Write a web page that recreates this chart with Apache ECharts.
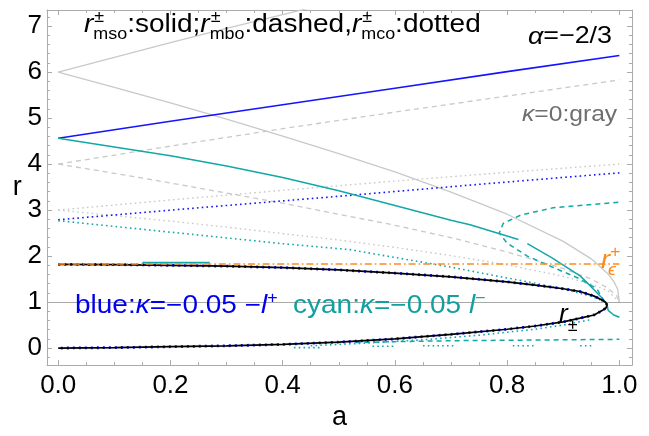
<!DOCTYPE html>
<html><head><meta charset="utf-8">
<script src="https://cdn.jsdelivr.net/npm/echarts@6/dist/echarts.min.js"></script>
<style>html,body{margin:0;padding:0;background:#fff}#c{width:649px;height:436px}</style>
</head><body><div id="c"></div>
<script>
// ---------------- data ----------------
// kappa = 0 (gray)
const grayMsoProA = [0,0.1,0.2,0.3,0.4,0.5,0.6,0.7,0.8,0.9,0.95,0.98,0.99,0.997,1.0];
const grayMsoProR = [6,5.67,5.33,4.98,4.61,4.23,3.83,3.39,2.91,2.32,1.94,1.61,1.45,1.28,1.0];
const grayMsoRetA = [0,0.1,0.2,0.3,0.4,0.5];
const grayMsoRetR = [6,6.32,6.64,6.95,7.25,7.55];
const grayMboProA = [0,0.1,0.2,0.3,0.4,0.5,0.6,0.7,0.8,0.9,0.95,0.98,0.995,1.0];
const grayMboProR = [4,3.80,3.59,3.37,3.15,2.91,2.67,2.40,2.09,1.73,1.50,1.30,1.14,1.0];
const grayMboRetA = [0,0.2,0.4,0.6,0.8,1.0];
const grayMboRetR = [4,4.39,4.77,5.13,5.48,5.83];
const grayMcoProA = [0,0.1,0.2,0.3,0.4,0.5,0.6,0.7,0.8,0.9,0.95,0.98,1.0];
const grayMcoProR = [3,2.88,2.76,2.63,2.49,2.35,2.19,2.01,1.81,1.56,1.39,1.24,1.0];
const grayMcoRetA = [0,0.2,0.4,0.6,0.8,1.0];
const grayMcoRetR = [3,3.22,3.43,3.63,3.82,4.0];
// kappa = -0.05, l+ (blue)
const blueMsoA = [0,0.2,0.4,0.6,0.8,1.0];
const blueMsoR = [4.56,4.93,5.29,5.65,6.01,6.36];
const blueMcoA = [0,0.25,0.5,0.75,1.0];
const blueMcoR = [2.79,3.05,3.30,3.56,3.81];
// kappa = -0.05, l- (cyan)
const cyanMsoA = [0,0.1,0.2,0.3,0.4,0.5,0.6,0.7,0.734,0.82,0.828,0.836,0.88,0.93,0.95,0.97,0.978,0.98,0.99,1.0];
const cyanMsoR = [4.56,4.37,4.18,3.96,3.71,3.42,3.10,2.78,2.68,2.36,null,2.27,1.96,1.57,1.33,1.08,0.95,0.82,0.72,0.67];
const cyanMsoBitA = [0.15,0.27];
const cyanMsoBitR = [1.86,1.86];
const cyanMboA = [0.998,0.94,0.882,0.824,0.793,0.786,0.80,0.836,0.877,0.925,0.96,0.972];
const cyanMboR = [3.17,3.11,3.05,2.89,2.71,2.50,2.28,2.00,1.78,1.53,1.29,1.03];
const cyanMboLowA = [0.53,0.6,0.7,0.8,0.9,1.0];
const cyanMboLowR = [0.12,0.14,0.16,0.17,0.18,0.19];
const cyanMcoA = [0,0.2,0.4,0.52,0.6,0.7,0.78,0.85,0.9,0.95,0.975];
const cyanMcoR = [2.77,2.52,2.27,2.14,1.97,1.76,1.57,1.41,1.28,1.13,1.0];
const cyanMcoLowA = [0.45,0.55,0.65,0.75,0.85,0.9,0.95];
const cyanMcoLowR = [0.05,0.11,0.18,0.28,0.41,0.50,0.62];
const cyanMcoBitsA = [0.42,0.47,0.51,0.56,0.60,0.64,0.65,0.71,0.75,0.81,0.85,0.89,0.93,0.95];
const cyanMcoBitsR = [0.01,0.01,null,0.04,0.04,null,0.05,0.05,null,0.05,0.05,null,0.05,0.05];
// horizons r+- (black) and r_eps+ (orange)
const horizonA = [0,0.1,0.2,0.3,0.4,0.5,0.6,0.7,0.8,0.85,0.9,0.93,0.955,0.97,0.976,0.978,0.976,0.97,0.955,0.93,0.9,0.85,0.8,0.7,0.6,0.5,0.4,0.3,0.2,0.1,0];
const horizonR = [1.82,1.815,1.80,1.78,1.75,1.70,1.63,1.55,1.44,1.37,1.29,1.23,1.13,1.04,0.99,0.93,0.87,0.82,0.72,0.65,0.57,0.48,0.41,0.30,0.20,0.13,0.08,0.05,0.03,0.01,0];
const rEpsA = [0,1.0];
const rEpsR = [1.83,1.83];
const gridLineR = 1;
// axis ticks
const xTickStep = 0.2, yTickStep = 1;

// ---------------- helpers ----------------
function zip(a, r){ return a.map((x,i)=> r[i]==null ? [x,'-'] : [x, r[i]]); }
const FONT = '"Liberation Sans", Arial, Helvetica, sans-serif';
const mctx = document.createElement('canvas').getContext('2d');
function tw(t, f){ mctx.font = f; return mctx.measureText(t).width; }
function richText(x0, base, pieces, o){
  const sx = o.sx || 1, els = [];
  let x = x0;
  const widths = pieces.map(p=>{
    const sz = p.sz || o.sz;
    const f = (p.i?'italic ':'') + sz + 'px ' + FONT;
    return {f, sz, w: tw(p.t, f)*sx};
  });
  if (o.right != null){
    let tot = 0; pieces.forEach((p,i)=>{ if(p.adv!==false) tot += widths[i].w; });
    x = o.right - tot;
  }
  pieces.forEach((p,i)=>{
    const m = widths[i];
    els.push({type:'text', x: x + (p.dx||0), y: base + (p.dy||0) - 0.34*m.sz, scaleX: sx, z: 100, silent:true,
      style:{text:p.t, font:m.f, fill:p.c||o.c, textAlign:'left', textVerticalAlign:'middle', verticalAlign:'middle'}});
    if (p.adv !== false) x += m.w;
  });
  return els;
}
function lineSeries(name, a, r, color, type, width, z){
  return {name, type:'line', data: zip(a,r), showSymbol:false, symbol:'none', connectNulls:false, z: z||2,
    lineStyle:{color, type: type||'solid', width: width||1.4, cap:'butt'}, silent:true, animation:false};
}
const frame = '#ababab';
function xAx(pos, lab){
  return {type:'value', position:pos, min:-0.02, max:1.0225, splitNumber:5,
    axisLine:{show:true,onZero:false,lineStyle:{color:frame,width:1}},
    axisTick:{show:true,inside:true,length:5,lineStyle:{color:frame}},
    minorTick:{show:true,splitNumber:4,length:3,lineStyle:{color:frame}},
    splitLine:{show:false},
    axisLabel:{show:lab, color:'#000', fontSize:26, fontFamily:'Liberation Sans', margin:8,
      formatter: v => (Math.abs(v/xTickStep - Math.round(v/xTickStep))<1e-6 ? v.toFixed(1) : '')},
    name: lab ? 'a' : '', nameLocation:'middle', nameGap:33,
    nameTextStyle:{color:'#000', fontSize:27, fontFamily:'Liberation Sans'}};
}
function yAx(pos, lab){
  return {type:'value', position:pos, min:-0.37, max:7.35, splitNumber:7,
    axisLine:{show:true,onZero:false,lineStyle:{color:frame,width:1}},
    axisTick:{show:true,inside:true,length:5,lineStyle:{color:frame}},
    minorTick:{show:true,splitNumber:5,length:3,lineStyle:{color:frame}},
    splitLine:{show:false},
    axisLabel:{show:lab, color:'#000', fontSize:26, fontFamily:'Liberation Sans', margin:5,
      formatter: v => (Math.abs(v/yTickStep - Math.round(v/yTickStep))<1e-6 ? String(Math.round(v)) : '')},
    name: lab ? 'r' : '', nameLocation:'middle', nameGap:16, nameRotate:0,
    nameTextStyle:{color:'#000', fontSize:27, fontFamily:'Liberation Sans', padding:[8,0,0,0]}};
}

const gray = '#c9c9c9', blue = '#1414ff', cyan = '#12a8a8', orange = '#ff8a1a';
const DASH = [5,4], DOT = [1.6,3.2], DASHDOT = [7,3,1.6,3];

const series = [
  Object.assign(lineSeries('grid', rEpsA, [gridLineR, gridLineR], 'rgba(0,0,0,0)', 'solid', 0, 1), {
    markLine:{silent:true, symbol:['none','none'], label:{show:false}, animation:false,
      lineStyle:{color:'#a9a9a9', type:'solid', width:1}, data:[{yAxis: gridLineR}]}}),
  lineSeries('gray mso+', grayMsoProA, grayMsoProR, gray, 'solid', 1.3),
  lineSeries('gray mso-', grayMsoRetA, grayMsoRetR, gray, 'solid', 1.3),
  lineSeries('gray mbo+', grayMboProA, grayMboProR, gray, DASH, 1.3),
  lineSeries('gray mbo-', grayMboRetA, grayMboRetR, gray, DASH, 1.3),
  lineSeries('gray mco+', grayMcoProA, grayMcoProR, gray, DOT, 1.4),
  lineSeries('gray mco-', grayMcoRetA, grayMcoRetR, gray, DOT, 1.4),
  lineSeries('blue mso', blueMsoA, blueMsoR, blue, 'solid', 1.6, 3),
  lineSeries('blue mco', blueMcoA, blueMcoR, blue, DOT, 1.6, 3),
  lineSeries('cyan mso', cyanMsoA, cyanMsoR, cyan, 'solid', 1.5, 3),
  lineSeries('cyan mso bit', cyanMsoBitA, cyanMsoBitR, cyan, 'solid', 1.8, 3),
  lineSeries('cyan mbo', cyanMboA, cyanMboR, cyan, DASH, 1.5, 3),
  lineSeries('cyan mbo low', cyanMboLowA, cyanMboLowR, cyan, DASH, 1.5, 3),
  lineSeries('cyan mco', cyanMcoA, cyanMcoR, cyan, DOT, 1.6, 3),
  lineSeries('cyan mco low', cyanMcoLowA, cyanMcoLowR, cyan, DOT, 1.6, 3),
  lineSeries('cyan mco bits', cyanMcoBitsA, cyanMcoBitsR, cyan, DOT, 1.6, 3),
  lineSeries('horizon blue', horizonA, horizonR, blue, [2,4], 2.8, 4),
  lineSeries('horizon', horizonA, horizonR, '#000', 'solid', 1.7, 5),
  lineSeries('r eps', rEpsA, rEpsR, orange, DASHDOT, 1.5, 6)
];

const S = 25, s = 16, SX = 1.12;
const texts = [].concat(
  richText(84, 34, [
    {t:'r',i:1},{t:'±',sz:s,dy:-11,adv:false,dx:1},{t:'mso',sz:s,dy:6},{t:':solid;'},
    {t:'r',i:1},{t:'±',sz:s,dy:-11,adv:false,dx:1},{t:'mbo',sz:s,dy:6},{t:':dashed,'},
    {t:'r',i:1},{t:'±',sz:s,dy:-11,adv:false,dx:1},{t:'mco',sz:s,dy:6},{t:':dotted'}
  ], {sz:S, sx:SX, c:'#000'}),
  richText(0, 45, [{t:'α',i:1},{t:'=−2/3'}], {sz:24, sx:SX, c:'#000', right:612}),
  richText(522, 122, [{t:'κ',i:1},{t:'=0:gray'}], {sz:22, sx:SX, c:'#6e6e6e'}),
  richText(601, 270, [{t:'r',i:1},{t:'+',sz:17,dy:-12,adv:false,dx:0},{t:'ϵ',i:1,sz:17,dy:6,dx:-2}], {sz:26, sx:1.05, c:orange}),
  richText(75, 315, [{t:'blue:'},{t:'κ',i:1},{t:'=−0.05 −'},{t:'l',i:1},{t:'+',sz:s,dy:-11}], {sz:S, sx:SX, c:'#0000f0'}),
  richText(293, 315, [{t:'cyan:'},{t:'κ',i:1},{t:'=−0.05 '},{t:'l',i:1},{t:'−',sz:s,dy:-11}], {sz:S, sx:SX, c:'#10a0a0'}),
  richText(559, 324, [{t:'r',i:1},{t:'±',sz:17,dy:8}], {sz:25, sx:1.05, c:'#000'})
);

const chart = echarts.init(document.getElementById('c'), null, {renderer:'canvas'});
chart.setOption({
  animation:false,
  backgroundColor:'#fff',
  grid:{left:47, top:10, width:585, height:361, containLabel:false},
  xAxis:[xAx('bottom', true), xAx('top', false)],
  yAxis:[yAx('left', true), yAx('right', false)],
  series,
  graphic: texts
});
</script></body></html>
